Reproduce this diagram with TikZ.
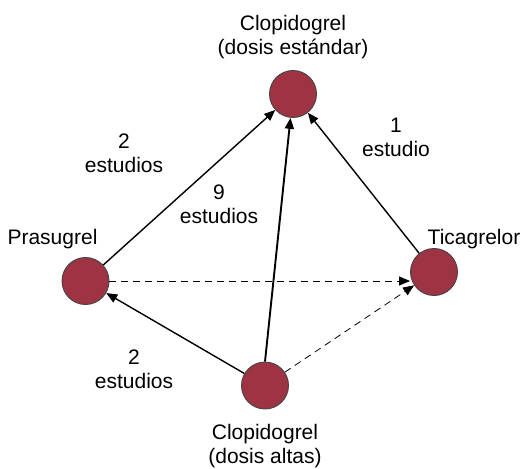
\documentclass[tikz,border=0pt]{standalone}
\usepackage{fontspec}
\setmainfont{Liberation Sans}
\usepackage{xcolor}
\usetikzlibrary{arrows.meta,positioning}
\definecolor{drug}{HTML}{9E3344}
\definecolor{rim}{HTML}{454545}

\begin{document}
\begin{tikzpicture}[
    x=1bp, y=-1bp,
    drugnode/.style={circle, draw=rim, line width=0.9bp, fill=drug, minimum size=47bp, inner sep=0pt},
    label/.style={align=center, font=\fontsize{21bp}{24bp}\selectfont, inner sep=0pt},
    arrow/.style={-{Triangle[length=11bp,width=9bp]}, line width=1.4bp},
    dasharrow/.style={-{Triangle[length=11bp,width=9bp]}, line width=0.8bp, dash pattern=on 7bp off 5bp}
]
\useasboundingbox (0,0) rectangle (521,469);

% Drug nodes
\node[drugnode] (std) at (293, 94) {};
\node[drugnode] (pras) at (85.5, 281) {};
\node[drugnode] (tica) at (434, 272) {};
\node[drugnode] (high) at (265, 385.5) {};

% Node names
\node[label] (stdname) at (293, 37) {Clopidogrel\\(dosis estándar)};
\node[label, anchor=base] (prasname) at (52.5, 245) {Prasugrel};
\node[label, anchor=base] (ticaname) at (474, 245) {Ticagrelor};
\node[label] (highname) at (265, 446) {Clopidogrel\\(dosis altas)};

% Study counts
\node[label] (n1) at (124, 153) {2\\estudios};
\node[label] (n2) at (219, 204) {9\\estudios};
\node[label] (n3) at (396, 137) {1\\estudio};
\node[label] (n4) at (134, 369) {2\\estudios};

% Arrows
\draw[arrow] (pras) -- (std);
\draw[arrow, line width=1.9bp] (high.north) -- (std);
\draw[arrow] (tica) -- (std);
\draw[arrow] (high) -- (pras);
\draw[dasharrow] (pras) -- (tica.west |- pras);
\draw[dasharrow] (high) -- (tica);

\end{tikzpicture}
\end{document}
